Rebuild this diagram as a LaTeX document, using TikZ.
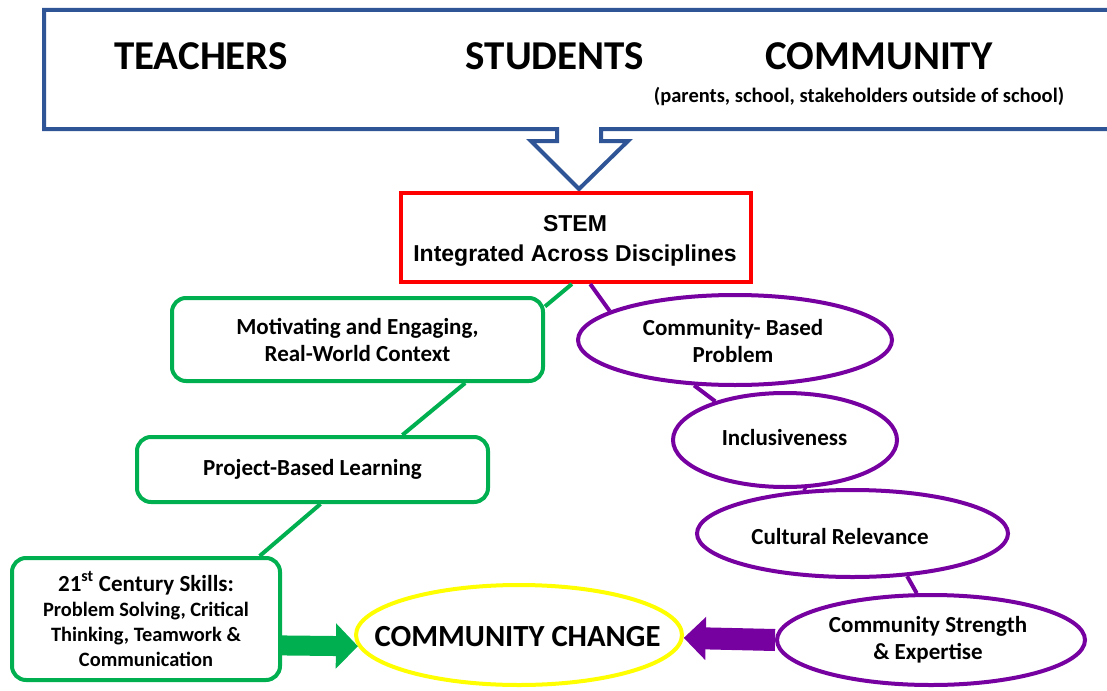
\documentclass[tikz,border=0pt]{standalone}
\usepackage{fontspec}
\setmainfont{Carlito}
\newfontfamily\arialfont{Liberation Sans}
\usetikzlibrary{shapes.geometric,arrows.meta}

\definecolor{calloutblue}{RGB}{47,85,151}
\definecolor{boxgreen}{RGB}{0,176,80}
\definecolor{ovalpurple}{RGB}{118,0,160}
\definecolor{stemred}{RGB}{255,0,0}
\definecolor{changeyellow}{RGB}{255,255,0}

\tikzset{
  toplabel/.style={font=\bfseries\fontsize{41}{43}\selectfont},
  greenbox/.style={draw=boxgreen,line width=4pt,rounded corners=14pt,fill=white,
    align=center,inner sep=0pt,font=\bfseries\fontsize{23}{27}\selectfont},
  purpleoval/.style={ellipse,draw=ovalpurple,line width=4pt,fill=white,inner sep=0pt},
  ovaltext/.style={align=center,inner sep=0pt,font=\bfseries\fontsize{23}{27}\selectfont},
  greenlink/.style={draw=boxgreen,line width=4pt},
  purplelink/.style={draw=ovalpurple,line width=4pt},
}

\begin{document}
\begin{tikzpicture}[x=1pt,y=-1pt]
    % \draw[help lines] grid(1107,690);
    \useasboundingbox (0,0) rectangle (1107,690);

    % who is involved
    \draw[calloutblue,line width=4pt,fill=white] (1120,10) -- (44,10) -- (44,129) -- (557,129) -- (557,141) -- (531,141)
        -- (579,189) -- (628,141) -- (601,141) -- (601,129) -- (1120,129) -- cycle;
    \node[toplabel] (teachers) at (201,56) {TEACHERS};
    \node[toplabel] (students) at (555,56) {STUDENTS};
    \node[toplabel] (community) at (879,56) {COMMUNITY};
    \node[font=\bfseries\fontsize{20.5}{22}\selectfont] (who) at (859,97) {(parents, school, stakeholders outside of school)};

    \node[draw=stemred,line width=4pt,fill=white,minimum width=350,minimum height=89,inner sep=0pt] (stem) at (576,237.5) {};
    \node[align=center,inner sep=0pt,font=\arialfont\bfseries\fontsize{23}{30}\selectfont] (stem-text) at (575,241)
        {STEM\\Integrated Across Disciplines};

    % green side
    \node[greenbox,minimum width=371,minimum height=83] (motiv) at (357.5,339.5) {Motivating and Engaging,\\Real-World Context};
    \node[greenbox,minimum width=351,minimum height=65] (pbl) at (312.5,469.5) {Project-Based Learning};
    \node[greenbox,minimum width=268,minimum height=122,font=\bfseries\fontsize{20.4}{25}\selectfont] (skills) at (146,619)
        {{\fontsize{23}{25}\selectfont 21\textsuperscript{st} Century Skills:}\\Problem Solving, Critical\\Thinking, Teamwork \&\\Communication};

    % purple side
    \node[purpleoval,minimum width=314,minimum height=90] (problem) at (735,340) {};
    \node[purpleoval,minimum width=224,minimum height=94] (incl) at (785,440) {};
    \node[purpleoval,minimum width=311,minimum height=87] (culture) at (852.5,533.5) {};
    \node[purpleoval,minimum width=308,minimum height=90] (strength) at (931,640) {};
    \node[ovaltext] (problem-text) at (733,341) {Community- Based\\Problem};
    \node[ovaltext] (incl-text) at (784.5,438) {Inclusiveness};
    \node[ovaltext] (culture-text) at (840,537) {Cultural Relevance};
    \node[ovaltext] (strength-text) at (928,640) {Community Strength\\\& Expertise};

    \node[ellipse,draw=changeyellow,line width=4pt,fill=white,minimum width=326,minimum height=100,inner sep=0pt] (change) at (519,635) {};
    \node[font=\bfseries\fontsize{30.7}{32}\selectfont] (change-text) at (517.5,637) {COMMUNITY CHANGE};

    \draw[greenlink] (stem.265) -- (motiv.10);
    \draw[greenlink] (motiv.338.5) -- (pbl.21);
    \draw[greenlink] (pbl.283) -- (skills.29);

    \draw[purplelink] (stem.287) -- (problem.167);
    \draw[purplelink] (problem.228) -- (incl.151);
    \draw[purplelink] (incl.291) -- (culture.137);
    \draw[purplelink] (culture.322) -- (strength.107);

    \draw[boxgreen,line width=20pt,-{Triangle[length=22pt,width=44pt]}] (skills.-11) -- (change.184);
    \draw[ovalpurple,line width=22pt,-{Triangle[length=22pt,width=42pt]}] (strength.west) -- (change.-1);
\end{tikzpicture}
\end{document}
